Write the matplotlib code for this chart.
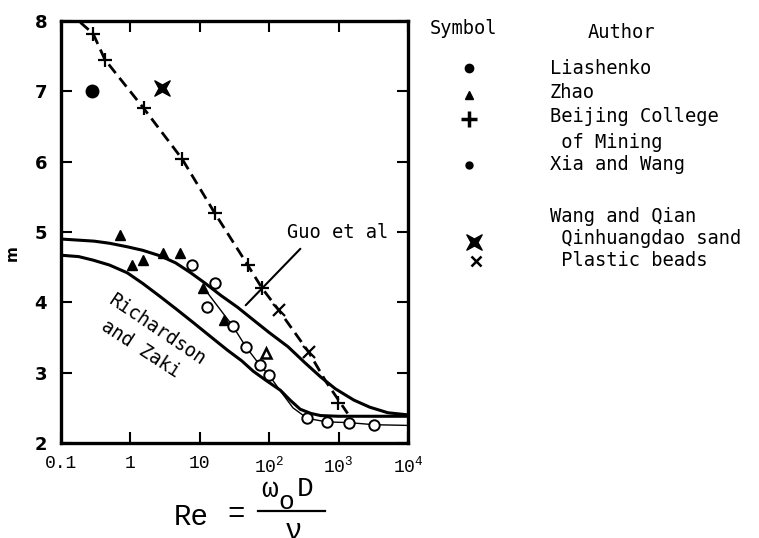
import matplotlib
matplotlib.use("Agg")
import matplotlib.pyplot as plt
from matplotlib.path import Path

plt.rcParams['font.family'] = ['Liberation Mono', 'DejaVu Sans']
plt.rcParams['mathtext.fontset'] = 'custom'
plt.rcParams['mathtext.rm'] = 'Liberation Mono'
plt.rcParams['mathtext.it'] = 'Liberation Mono'
KEY_FONT = 'DejaVu Sans Mono'

# measured points (Re, m)
re_lia = [0.28]
m_lia = [7.0]

re_zhao = [0.71, 1.05, 1.53, 2.97, 5.2, 11.3, 22]
m_zhao = [4.96, 4.53, 4.60, 4.70, 4.70, 4.20, 3.75]
re_zhao_open = [89]
m_zhao_open = [3.28]

re_bj = [0.29, 0.43, 1.55, 5.55, 16.4, 49, 79, 970]
m_bj = [7.82, 7.45, 6.76, 6.04, 5.27, 4.53, 4.20, 2.57]

re_xw = [7.8, 12.9, 16.8, 30, 46, 73, 100, 355, 676, 1410, 3230]
m_xw = [4.53, 3.93, 4.27, 3.66, 3.37, 3.11, 2.96, 2.35, 2.30, 2.29, 2.26]

re_sand = [2.9]
m_sand = [7.05]

re_beads = [137, 372]
m_beads = [3.89, 3.29]

# trend lines
re_guo = [0.1, 0.3, 0.5, 0.9, 1.5, 2.7, 4.5, 7.4, 12, 20, 35, 59, 100,
          186, 320, 550, 900, 1660, 2800, 5130, 10000]
m_guo = [4.90, 4.87, 4.84, 4.79, 4.74, 4.66, 4.56, 4.42, 4.27, 4.10, 3.93,
         3.75, 3.57, 3.37, 3.15, 2.94, 2.77, 2.61, 2.51, 2.43, 2.40]

re_rz = [0.1, 0.18, 0.29, 0.5, 0.9, 1.5, 2.7, 4.5, 8.1, 14, 25, 40, 59, 90,
         145, 200, 280, 400, 550, 1000, 10000]
m_rz = [4.67, 4.65, 4.60, 4.53, 4.42, 4.27, 4.08, 3.91, 3.71, 3.52, 3.32,
        3.17, 3.02, 2.89, 2.75, 2.61, 2.48, 2.42, 2.39, 2.38, 2.38]

re_bj_line = [0.19, 0.29, 0.43, 1.55, 5.55, 16.4, 49, 79, 137, 372, 660, 1350]
m_bj_line = [7.98, 7.82, 7.45, 6.76, 6.04, 5.27, 4.53, 4.20, 3.89, 3.29, 2.87, 2.42]

re_xw_line = [11.5, 30, 46, 73, 100, 150, 220, 355, 676, 1410, 3230, 10000]
m_xw_line = [4.20, 3.66, 3.37, 3.11, 2.96, 2.72, 2.50, 2.35, 2.30, 2.29, 2.26, 2.25]

x_ticks = [0.1, 1, 10, 100, 1000, 10000]
x_ticklabels = ['0.1', '1', '10', r'$10^2$', r'$10^3$', r'$10^4$']
y_ticks = [2, 3, 4, 5, 6, 7, 8]

key_labels = ['Liashenko', 'Zhao', 'Beijing College', ' of Mining',
              'Xia and Wang', 'Wang and Qian', ' Qinhuangdao sand',
              ' Plastic beads']

# concave square "X" used for the Qinhuangdao sand
bowtie = Path([(-1, -1), (0, -0.45), (1, -1), (0.45, 0), (1, 1),
               (0, 0.45), (-1, 1), (-0.45, 0), (-1, -1)],
              [Path.MOVETO] + [Path.LINETO] * 7 + [Path.CLOSEPOLY])

W, H = 759, 538
fig = plt.figure(figsize=(W / 100, H / 100), dpi=100)
ax = fig.add_axes([61 / W, 1 - 443 / H, 347 / W, 422 / H])

ax.plot(re_guo, m_guo, color='k', lw=2.2)
ax.plot(re_rz, m_rz, color='k', lw=2.2)
ax.plot(re_bj_line, m_bj_line, color='k', lw=2.0, linestyle=(0, (4, 2.2)))
ax.plot(re_xw_line, m_xw_line, color='k', lw=1.0)

ax.plot(re_lia, m_lia, 'o', color='k', ms=9)
ax.plot(re_zhao, m_zhao, '^', color='k', ms=6.5)
ax.plot(re_zhao_open, m_zhao_open, '^', mfc='white', mec='k', mew=1.8, ms=6.5)
ax.plot(re_bj, m_bj, '+', color='k', ms=10, mew=1.6)
ax.plot(re_xw, m_xw, 'o', mfc='white', mec='k', mew=1.4, ms=7.5)
ax.plot(re_sand, m_sand, marker=bowtie, color='k', ms=11, linestyle='none')
ax.plot(re_beads, m_beads, 'x', color='k', ms=8, mew=1.6)

ax.set_xscale('log')
ax.set_xlim(0.1, 10000)
ax.set_ylim(2, 8)
ax.set_xticks(x_ticks)
ax.set_xticklabels(x_ticklabels, fontsize=13)
ax.minorticks_off()
ax.set_yticks(y_ticks)
ax.set_yticklabels([str(v) for v in y_ticks], fontsize=13,
                   fontfamily='DejaVu Sans', fontweight='bold')
ax.tick_params(direction='in', top=True, right=True, length=8, width=1.5)
ax.tick_params(axis='x', pad=9)
ax.tick_params(axis='y', pad=10)
for s in ax.spines.values():
    s.set_linewidth(2.4)

# curve labels
ax.text(980, 5.0, 'Guo et al', fontsize=13.5, fontfamily=KEY_FONT,
        ha='center', va='center')
ax.annotate('', xy=(43, 3.93), xytext=(300, 4.79),
            arrowprops=dict(arrowstyle='-', color='k', lw=1.5))
ax.text(2.44, 3.61, 'Richardson', fontsize=13.5, fontfamily=KEY_FONT,
        rotation=-34, rotation_mode='anchor', ha='center', va='center')
ax.text(1.43, 3.34, 'and Zaki', fontsize=13.5, fontfamily=KEY_FONT,
        rotation=-33, rotation_mode='anchor', ha='center', va='center')

# overlay in pixel units for the key, the m label and the Re definition
lax = fig.add_axes([0, 0, 1, 1])
lax.set_xlim(0, W)
lax.set_ylim(H, 0)
lax.axis('off')

lax.text(12, 253, 'm', fontsize=11, fontfamily='DejaVu Sans',
         fontweight='bold', rotation=90, ha='center', va='center')

lax.text(430, 28, 'Symbol', fontsize=13.5, fontfamily=KEY_FONT, va='center')
lax.text(588, 32, 'Author', fontsize=13.5, fontfamily=KEY_FONT, va='center')

key_rows = [68, 93, 117, 142, 165, 217, 238, 260]
for lab, yy in zip(key_labels, key_rows):
    lax.text(550, yy, lab, fontsize=13.5, fontfamily=KEY_FONT, va='center')

lax.plot([469], [68], 'o', color='k', ms=6)
lax.plot([469], [95], '^', color='k', ms=6)
lax.plot([469], [119], '+', color='k', ms=11, mew=2.5)
lax.plot([469], [165], 'o', color='k', ms=5)
lax.plot([474], [242], marker=bowtie, color='k', ms=11, linestyle='none')
lax.plot([476], [261], 'x', color='k', ms=7, mew=1.8)

lax.text(191, 517, 'Re', fontsize=21, ha='center', va='center')
lax.text(236, 514, '=', fontsize=21, ha='center', va='center')
lax.plot([258, 325], [511, 511], color='k', lw=1.6)
lax.text(270, 497, 'ω', fontsize=20, ha='center', va='baseline')
lax.text(286, 509, 'o', fontsize=19, ha='center', va='baseline')
lax.text(305, 496, 'D', fontsize=20, ha='center', va='baseline')
lax.text(293, 531, 'ν', fontsize=21, ha='center', va='center')

fig.savefig('out.png', dpi=100)
